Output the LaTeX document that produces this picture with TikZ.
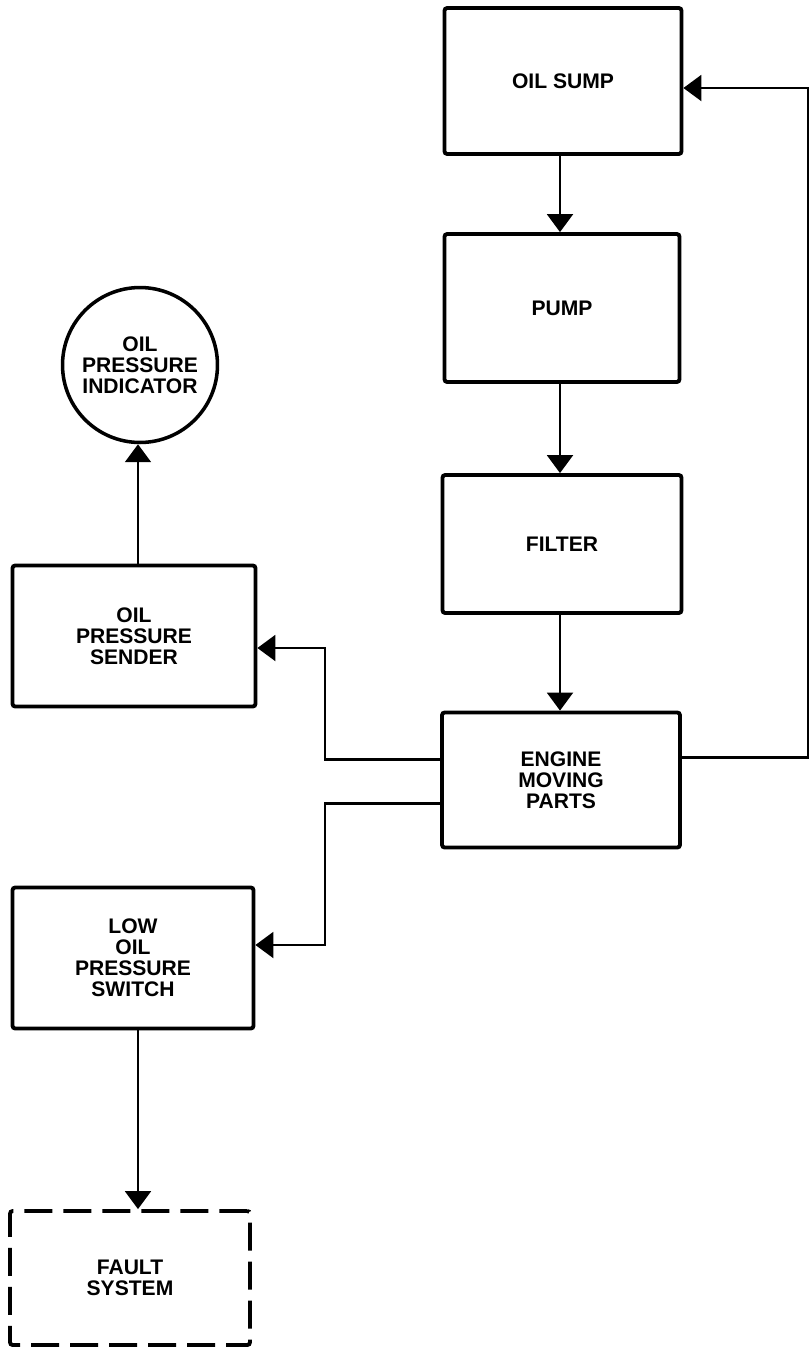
\documentclass[tikz,border=0pt]{standalone}
\usepackage{fontspec}
\setmainfont{Liberation Sans}
\usetikzlibrary{arrows.meta}

\begin{document}
\begin{tikzpicture}[
  x=0.02cm,
  y=-0.02cm,
  every node/.style={font=\fontsize{12}{12}\selectfont\bfseries, align=center},
  block/.style={draw, line width=2.2pt, rounded corners=1.5pt, inner sep=0pt},
  dashblock/.style={block, dash pattern=on 0.56cm off 0.22cm},
  dial/.style={draw, circle, line width=2pt, inner sep=0pt, minimum size=3.1cm},
  flow/.style={line width=1.2pt, -{Triangle[length=0.36cm, width=0.52cm]}}
]
  \useasboundingbox (0,0) rectangle (810,1353);

  % ---- oil circuit, right column ----
  \node[block, minimum width=4.74cm, minimum height=2.92cm] (sump)   at (563,81)  {OIL SUMP};
  \node[block, minimum width=4.70cm, minimum height=2.96cm] (pump)   at (562,308) {PUMP};
  \node[block, minimum width=4.78cm, minimum height=2.76cm] (filter) at (562,544) {FILTER};
  \node[block, minimum width=4.76cm, minimum height=2.70cm] (engine) at (561,780) {ENGINE\\MOVING\\PARTS};

  % ---- gauge and warning, left column ----
  \node[dial] (indicator) at (140,365) {OIL\\PRESSURE\\INDICATOR};
  \node[block, minimum width=4.86cm, minimum height=2.82cm] (sender) at (134,636)  {OIL\\PRESSURE\\SENDER};
  \node[block, minimum width=4.82cm, minimum height=2.82cm] (switch) at (133,958)  {LOW\\OIL\\PRESSURE\\SWITCH};
  \node[dashblock, minimum width=4.80cm, minimum height=2.68cm] (fault) at (130,1278) {FAULT\\SYSTEM};

  % ---- bends of the branch lines ----
  \coordinate (loop)  at (808,88);
  \coordinate (bendA) at (325,648);
  \coordinate (bendB) at (325,945);

  % ---- main flow ----
  \draw[flow] (sump.south -| 560,0)   -- (pump.north -| 560,0);
  \draw[flow] (pump.south -| 560,0)   -- (filter.north -| 560,0);
  \draw[flow] (filter.south -| 560,0) -- (engine.north -| 560,0);
  \draw[flow] ([yshift=0.45cm]engine.east) -| (loop) -- (sump.east |- loop);

  % ---- branches to sender and switch ----
  \draw[flow] ([yshift=0.41cm]engine.west)  -| (bendA) -- (sender.east |- bendA);
  \draw[flow] ([yshift=-0.47cm]engine.west) -| (bendB) -- (switch.east |- bendB);
  \draw[flow] (sender.north -| 138,0) -- (indicator.south -| 138,0);
  \draw[flow] (switch.south -| 138,0) -- (fault.north -| 138,0);
\end{tikzpicture}
\end{document}
